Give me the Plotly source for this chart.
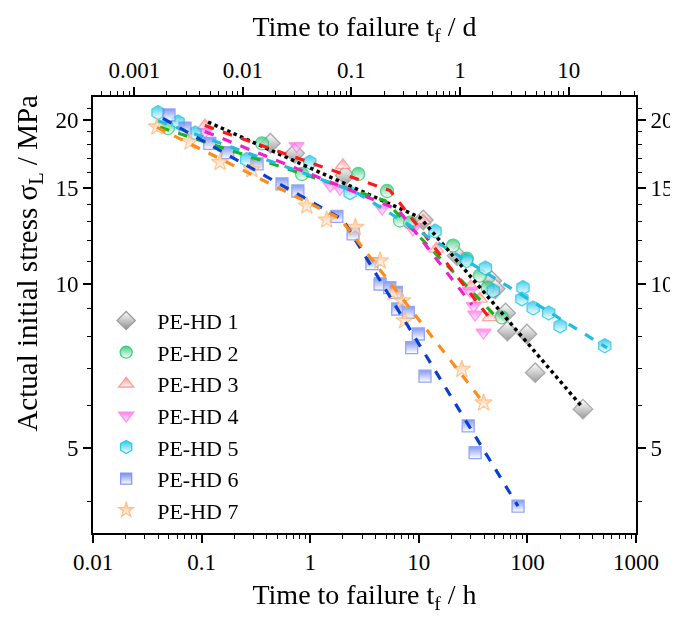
import math
import plotly.graph_objects as go

# ---------------- data (time to failure in h, actual initial stress in MPa) ----------------
names = ["PE-HD 1", "PE-HD 2", "PE-HD 3", "PE-HD 4", "PE-HD 5", "PE-HD 6", "PE-HD 7"]

t1 = [0.43, 0.72, 2.1, 11.0, 22.5, 47, 50.5, 63, 65.5, 99, 118, 325]
s1 = [18.1, 17.35, 15.8, 13.1, 11.27, 10.14, 9.8, 8.85, 8.2, 8.1, 6.88, 5.9]

t2 = [0.049, 0.36, 0.84, 2.77, 5.1, 6.7, 8.3, 20.7, 27.6, 36.5, 43, 58]
s2 = [19.3, 18.1, 15.9, 15.9, 14.8, 13.07, 12.95, 11.76, 11.13, 10.36, 9.85, 8.69]

t3 = [0.1075, 2.0, 11.0, 14.5, 30, 36.5, 45]
s3 = [19.5, 16.5, 13.07, 11.6, 9.9, 9.39, 8.69]

t4 = [0.1075, 0.75, 1.53, 1.88, 4.6, 8.8, 29.5, 32, 33, 39.5]
s4 = [19.0, 17.9, 15.15, 14.95, 13.75, 12.6, 9.72, 9.12, 8.8, 8.15]

t5 = [0.0397, 0.0607, 0.087, 0.26, 0.99, 2.33, 14.1, 27.6, 41, 48.5, 91, 89, 113, 157, 200, 516]
s5 = [20.6, 19.8, 18.9, 16.9, 16.7, 14.7, 12.5, 11.03, 10.7, 9.72, 9.85, 9.39, 9.04, 8.85, 8.38, 7.71]

t6 = [0.0501, 0.0703, 0.119, 0.174, 0.324, 0.55, 0.77, 1.76, 2.48, 3.7, 4.4, 5.4, 6.2, 6.4,
      8.0, 9.9, 8.6, 11.4, 28.5, 33, 82]
s6 = [20.4, 19.3, 18.1, 17.4, 16.6, 15.25, 14.8, 13.3, 12.35, 10.9, 10.0, 9.85, 9.65, 9.0,
      8.87, 8.1, 7.65, 6.78, 5.5, 4.91, 3.92]

t7 = [0.0388, 0.0782, 0.148, 0.29, 0.93, 1.42, 2.6, 4.4, 5.8, 7.0, 7.4, 24.9, 39.5]
s7 = [19.4, 18.2, 16.7, 16.2, 13.9, 13.1, 12.7, 11.03, 9.65, 9.32, 8.57, 6.98, 6.06]

# piecewise power-law fits (start, knee, end)
f1_t = [0.1146, 10.3, 318];  f1_s = [19.8, 13.23, 5.96]
f2_t = [0.0414, 4.89, 56];   f2_s = [19.36, 14.21, 8.56]
f3_t = [0.107, 5.43, 45.3];  f3_s = [19.5, 14.83, 8.64]
f4_t = [0.107, 6.43, 30.9];  f4_s = [19.03, 13.69, 9.16]
f5_t = [0.0397, 2.585, 541]; f5_s = [19.9, 14.77, 7.64]
f6_t = [0.0441, 2.0, 81.9];  f6_s = [20.1, 13.12, 3.92]
f7_t = [0.0388, 1.88, 38.2]; f7_s = [19.36, 13.18, 6.11]

x_major = [0.01, 0.1, 1, 10, 100, 1000]
x_labels = ["0.01", "0.1", "1", "10", "100", "1000"]
d_major = [0.001, 0.01, 0.1, 1, 10]
d_labels = ["0.001", "0.01", "0.1", "1", "10"]
y_major = [5, 10, 15, 20]
y_labels = ["5", "10", "15", "20"]
y_minor = [4, 6, 7, 8, 9, 11, 12, 13, 14, 16, 17, 18, 19, 21]

# ---------------- styling ----------------
sym = ["diamond", "circle", "triangle-up", "triangle-down", "hexagon", "square", "star"]
mcol = ["#7a7a7a", "#1fc46a", "#ff7a7a", "#ff66e6", "#00bde8", "#5c78ee", "#ffb066"]
lcol = ["#8c8c8c", "#22c46c", "#ff8a8a", "#ff77ea", "#10bfe6", "#7088f0", "#ffb574"]
fitcol = ["#000000", "#1db31d", "#ff1a1a", "#ee22cc", "#1fbde0", "#0b3fd0", "#ff8c1a"]
fitdash = ["dot", "dash", "dash", "dash", "dash", "dash", "dash"]
msize = [15, 13, 13, 13, 14, 12, 13]
lsize = [14, 12, 13, 13, 13, 11, 11]

T = [t1, t2, t3, t4, t5, t6, t7]
S = [s1, s2, s3, s4, s5, s6, s7]
FT = [f1_t, f2_t, f3_t, f4_t, f5_t, f6_t, f7_t]
FS = [f1_s, f2_s, f3_s, f4_s, f5_s, f6_s, f7_s]

FONT = "Liberation Serif"

fig = go.Figure()


def marker_style(i, size):
    if i == 0:
        mc, gc = "white", mcol[0]
    else:
        mc, gc = mcol[i], "white"
    return dict(symbol=sym[i], size=size, color=mc,
                gradient=dict(type="vertical", color=gc),
                line=dict(color=lcol[i], width=1.3))


for i in range(7):
    fig.add_trace(go.Scatter(
        x=T[i], y=S[i], mode="markers", name=names[i], showlegend=False,
        marker=marker_style(i, msize[i]), opacity=0.75,
    ))

for i in range(7):
    fig.add_trace(go.Scatter(
        x=FT[i], y=FS[i], mode="lines", showlegend=False, hoverinfo="skip",
        line=dict(color=fitcol[i], width=3.2 if i else 3.5, dash=fitdash[i]),
    ))

# legend entries (markers only, no data drawn)
for i in range(7):
    fig.add_trace(go.Scatter(
        x=[None], y=[None], mode="markers", name=names[i], legendgroup=names[i],
        marker=marker_style(i, lsize[i]), opacity=0.85,
    ))

# invisible traces to activate the top and right axes
fig.add_trace(go.Scatter(x=[1], y=[10], xaxis="x2", yaxis="y", mode="markers",
                         marker=dict(opacity=0), showlegend=False, hoverinfo="skip"))
fig.add_trace(go.Scatter(x=[10], y=[10], xaxis="x", yaxis="y2", mode="markers",
                         marker=dict(opacity=0), showlegend=False, hoverinfo="skip"))

xr = [-2, 3]
dr = [math.log10(0.01 / 24), math.log10(1000 / 24)]
yr = [math.log10(3.5), math.log10(22)]


def minors(decades):
    out = []
    for d in decades:
        for k in range(2, 10):
            out.append(k * d)
    return out


tickfont = dict(family=FONT, size=23, color="black")
titlefont = dict(family=FONT, size=28, color="black")
minor_style = dict(ticks="outside", ticklen=4, tickwidth=1.2, tickcolor="black")
common = dict(showgrid=False, zeroline=False, showline=True, linecolor="black", linewidth=1.6,
              ticks="outside", ticklen=8, tickwidth=1.6, tickcolor="black", tickfont=tickfont,
              automargin=False)

fig.update_layout(
    width=670, height=609,
    margin=dict(l=85, r=42, t=89, b=84),
    paper_bgcolor="white", plot_bgcolor="white",
    showlegend=True,
    legend=dict(x=0.004, y=0.535, xanchor="left", yanchor="top",
                font=dict(family=FONT, size=22, color="black"),
                bgcolor="rgba(0,0,0,0)", tracegroupgap=0, itemwidth=52,
                traceorder="grouped"),
    xaxis=dict(type="log", range=xr, tickmode="array", tickvals=x_major, ticktext=x_labels,
               minor=dict(tickmode="array", tickvals=minors([0.01, 0.1, 1, 10, 100]), **minor_style),
               title=dict(text="Time to failure t<sub>f</sub> / h", font=titlefont, standoff=10),
               **common),
    xaxis2=dict(type="log", range=dr, overlaying="x", side="top", anchor="y",
                tickmode="array", tickvals=d_major, ticktext=d_labels,
                minor=dict(tickmode="array",
                           tickvals=minors([0.0001, 0.001, 0.01, 0.1, 1, 10]), **minor_style),
                title=dict(text="Time to failure t<sub>f</sub> / d", font=titlefont, standoff=13),
                **common),
    yaxis=dict(type="log", range=yr, tickmode="array", tickvals=y_major, ticktext=y_labels,
               minor=dict(tickmode="array", tickvals=y_minor, **minor_style),
               **common),
    yaxis2=dict(type="log", range=yr, overlaying="y", side="right", anchor="x",
                tickmode="array", tickvals=y_major, ticktext=y_labels,
                minor=dict(tickmode="array", tickvals=y_minor, **minor_style),
                **common),
    annotations=[dict(text="Actual initial stress σ<sub>L</sub> / MPa",
                      xref="paper", yref="paper", x=-0.118, y=0.62,
                      xanchor="center", yanchor="middle", textangle=-90,
                      showarrow=False, font=dict(family=FONT, size=29, color="black"))],
)

fig.write_html("out.html")
